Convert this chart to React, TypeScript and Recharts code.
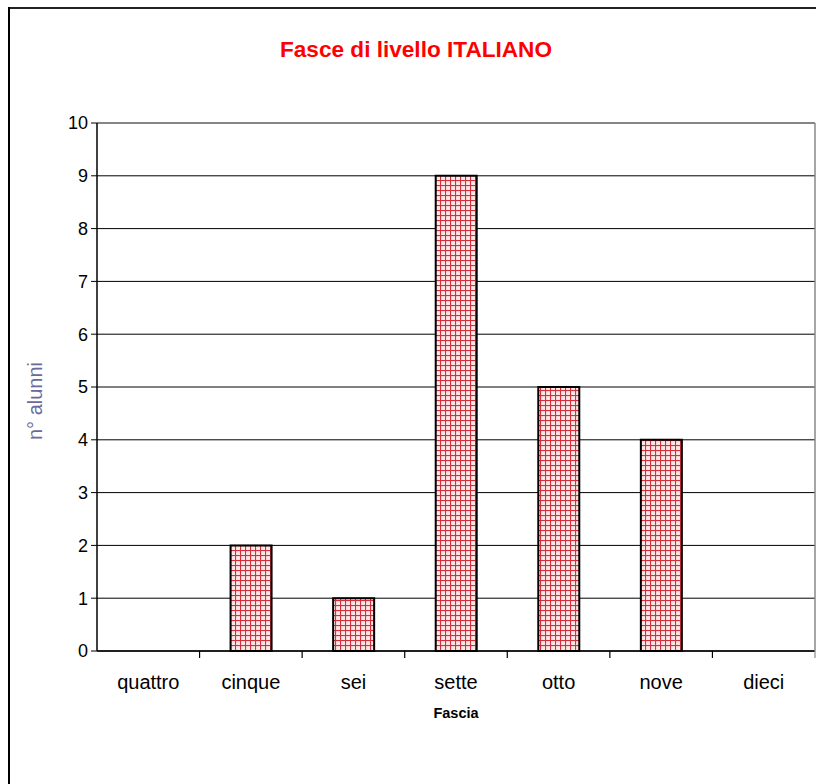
import { BarChart, Bar, XAxis, YAxis, CartesianGrid, ReferenceLine } from 'recharts';

const fasce = ['quattro', 'cinque', 'sei', 'sette', 'otto', 'nove', 'dieci'];
const alunni = [0, 2, 1, 9, 5, 4, 0];
const yTicks = [0, 1, 2, 3, 4, 5, 6, 7, 8, 9, 10];

const data = fasce.map((name, i) => ({ name, value: alunni[i] }));

const CHART_W = 816;
const CHART_H = 784;
const MARGIN = { top: 123, right: 0, bottom: 63, left: 18 };
const Y_W = 79;
const PLOT_W = CHART_W - MARGIN.left - MARGIN.right - Y_W - 1;
const BAND = PLOT_W / fasce.length;

function FasciaTick(props: any) {
  const { x, y, payload, index } = props;
  const axisY = y - 6;
  const left = x - BAND / 2;
  return (
    <g>
      {index > 0 && <line x1={left} y1={axisY} x2={left} y2={axisY + 7} stroke="#000" strokeWidth={1.2} />}
      {index === fasce.length - 1 && (
        <line x1={x + BAND / 2} y1={axisY} x2={x + BAND / 2} y2={axisY + 7} stroke="#888" strokeWidth={1.2} />
      )}
      <text x={x} y={axisY + 38} textAnchor="middle" fontSize={20} fill="#000">
        {payload.value}
      </text>
    </g>
  );
}

function AlunniLabel() {
  return (
    <text x={42} y={401} transform="rotate(-90 42 401)" textAnchor="middle" fontSize={20} fill="#6a6a9c">
      n° alunni
    </text>
  );
}

export default function App() {
  return (
    <div style={{ position: 'fixed', left: 0, top: 0, width: CHART_W, height: CHART_H, overflow: 'hidden', background: '#fff', fontFamily: '"Liberation Sans", Arial, sans-serif' }}>
      {/* cornice del grafico: solo lato sinistro e superiore visibili */}
      <div style={{ position: 'absolute', left: 8, top: 7, width: CHART_W - 8, height: 2, background: '#222' }} />
      <div style={{ position: 'absolute', left: 8, top: 7, width: 2, height: CHART_H - 7, background: '#000' }} />
      <div
        style={{
          position: 'absolute',
          left: 8,
          top: 37,
          width: CHART_W,
          textAlign: 'center',
          color: '#ff0000',
          fontWeight: 'bold',
          fontSize: 22.6,
        }}
      >
        Fasce di livello ITALIANO
      </div>
      <div style={{ position: 'absolute', left: 0, top: 0 }}>
        <BarChart width={CHART_W} height={CHART_H} data={data} margin={MARGIN} barSize={41}>
          <defs>
            <pattern id="quadretti" width="5" height="5" patternUnits="userSpaceOnUse">
              <rect width="5" height="5" fill="#fde6e6" />
              <line x1="0" y1="0.5" x2="5" y2="0.5" stroke="#d3303c" strokeWidth="1.2" />
              <line x1="0.5" y1="0" x2="0.5" y2="5" stroke="#d3303c" strokeWidth="1.2" />
            </pattern>
          </defs>
          <CartesianGrid vertical={false} stroke="#000" strokeWidth={1} />
          <XAxis
            dataKey="name"
            tick={<FasciaTick />}
            tickLine={false}
            tickSize={6}
            tickMargin={0}
            height={70}
            axisLine={{ stroke: '#000', strokeWidth: 1.5 }}
            interval={0}
            label={{ value: 'Fascia', position: 'insideBottom', offset: 3, fontSize: 14.5, fontWeight: 'bold', fill: '#000' }}
          />
          <YAxis
            domain={[0, 10]}
            ticks={yTicks}
            interval={0}
            width={Y_W}
            tickSize={6}
            tickMargin={3}
            tick={{ fontSize: 18, fill: '#000' }}
            tickLine={{ stroke: '#000' }}
            axisLine={{ stroke: '#000', strokeWidth: 1.5 }}
            label={<AlunniLabel />}
          />
          <YAxis
            yAxisId="bordo"
            orientation="right"
            domain={[0, 10]}
            width={1}
            tick={false}
            tickLine={false}
            axisLine={{ stroke: '#888', strokeWidth: 1.5 }}
          />
          <ReferenceLine y={10} stroke="#888" strokeWidth={1.5} />
          <Bar dataKey="value" fill="url(#quadretti)" stroke="#000" strokeWidth={2} isAnimationActive={false} />
        </BarChart>
      </div>
    </div>
  );
}
